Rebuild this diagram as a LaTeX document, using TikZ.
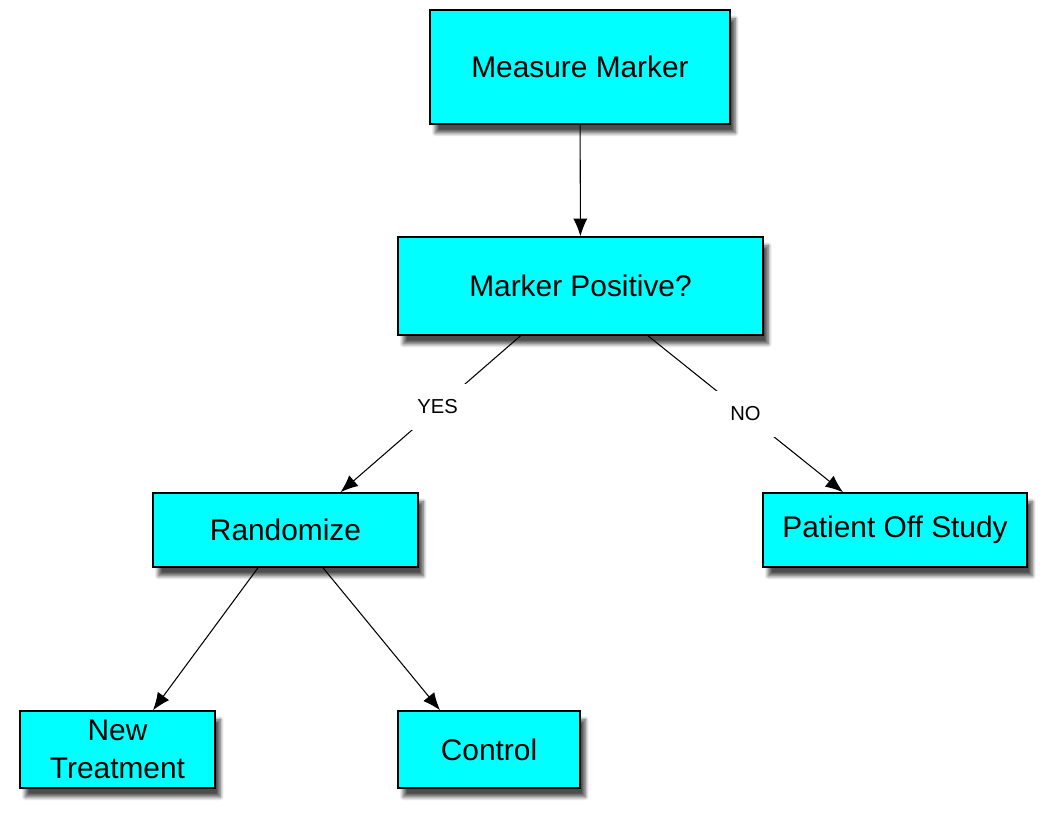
\documentclass[tikz,border=0pt]{standalone}
\usepackage{fontspec}
\setmainfont{Liberation Sans}
\usepackage{tikz}
\usetikzlibrary{arrows.meta}
\usetikzlibrary{positioning}
\usetikzlibrary{shadows.blur}
\definecolor{boxcyan}{RGB}{0,255,255}

\begin{document}
\begin{tikzpicture}[x=0.02cm, y=-0.02cm,
                    box/.style={draw, line width=0.9pt, fill=boxcyan, align=center,
                                inner sep=0pt, font=\fontsize{17}{21.5}\selectfont,
                                blur shadow={shadow xshift=3pt, shadow yshift=-5pt,
                                             shadow blur steps=8, shadow opacity=70}},
                    link/.style={draw, line width=0.6pt, -{Latex[length=10pt, width=8pt]}},
                    answer/.style={fill=white, inner sep=9pt, font=\fontsize{11.5}{13}\selectfont}]
    \useasboundingbox (0,0) rectangle (1050,819);
    \node[box, minimum width=6cm, minimum height=2.28cm] (measure) at (580,67) {Measure Marker};
    \node[box, minimum width=7.3cm, minimum height=1.96cm] (positive) at (580.5,286) {Marker Positive?};
    \node[box, minimum width=5.3cm, minimum height=1.48cm] (randomize) at (285.5,530) {Randomize};
    \node[box, minimum width=5.28cm, minimum height=1.48cm] (offstudy) at (895,530) {Patient Off Study};
    \node[box, minimum width=3.9cm, minimum height=1.54cm] (newtreat) at (117.5,749.5) {New\\Treatment};
    \node[box, minimum width=3.64cm, minimum height=1.54cm] (control) at (489,749.5) {Control};

    \draw[link] (measure) -- (positive);
    \draw[link] ([xshift=-1.2cm]positive.south) -- node[answer, xshift=4pt, yshift=4pt] (yes) {YES} ([xshift=1.1cm]randomize.north);
    \draw[link] ([xshift=1.35cm]positive.south) -- node[answer] (no) {NO} ([xshift=-1.04cm]offstudy.north);
    \draw[link] ([xshift=-0.55cm]randomize.south) -- ([xshift=0.71cm]newtreat.north);
    \draw[link] ([xshift=0.75cm]randomize.south) -- ([xshift=-0.98cm]control.north);
\end{tikzpicture}
\end{document}
